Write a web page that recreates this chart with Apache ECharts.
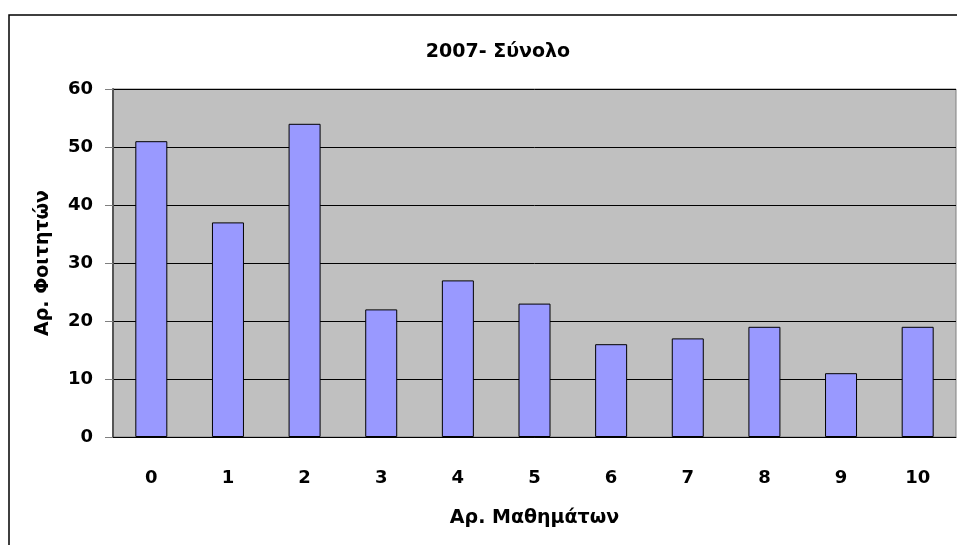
<!DOCTYPE html>
<html>
<head>
<meta charset="utf-8">
<script src="https://cdn.jsdelivr.net/npm/echarts@6/dist/echarts.min.js"></script>
<style>
    html, body { margin: 0; padding: 0; background: #fff; }
    #chart { width: 957px; height: 545px; }
</style>
</head>
<body>
<div id="chart"></div>
<script>
'use strict'

const categories = ['0', '1', '2', '3', '4', '5', '6', '7', '8', '9', '10']
const students = [51, 37, 54, 22, 27, 23, 16, 17, 19, 11, 19]
const yTicks = { min: 0, max: 60, interval: 10 }

const fontFamily = '"DejaVu Sans", "Liberation Sans", Arial, sans-serif'
const labelStyle = {
    color: '#000',
    fontSize: 18,
    fontWeight: 'bold',
    fontFamily: fontFamily
}
const nameStyle = Object.assign({}, labelStyle, { fontSize: 19 })

let myChart = echarts.init(document.getElementById('chart'))
let option = {
    animation: false,
    title: {
        text: '2007- Σύνολο',
        left: 493,
        top: 38,
        textAlign: 'center',
        textStyle: nameStyle
    },
    graphic: [{
        type: 'rect',
        shape: { x: 9, y: 15, width: 1000, height: 600 },
        style: { fill: 'none', stroke: '#000', lineWidth: 1.5 },
        z: 100,
        silent: true
    }],
    grid: {
        left: 113,
        right: 1,
        top: 89,
        bottom: 108,
        show: true,
        backgroundColor: '#C0C0C0',
        borderColor: '#808080',
        borderWidth: 1
    },
    xAxis: {
        type: 'category',
        data: categories,
        boundaryGap: true,
        name: 'Αρ. Μαθημάτων',
        nameLocation: 'middle',
        nameGap: 72,
        nameTextStyle: nameStyle,
        axisLine: { lineStyle: { color: '#000', width: 1 } },
        axisTick: { length: 7, lineStyle: { color: '#808080' } },
        axisLabel: Object.assign({ margin: 32 }, labelStyle)
    },
    yAxis: {
        type: 'value',
        min: yTicks.min,
        max: yTicks.max,
        interval: yTicks.interval,
        name: 'Αρ. Φοιτητών',
        nameLocation: 'middle',
        nameGap: 60,
        nameRotate: 90,
        nameTextStyle: nameStyle,
        axisLine: { show: true, lineStyle: { color: '#555', width: 2 } },
        axisTick: { show: true, length: 8, lineStyle: { color: '#808080' } },
        axisLabel: Object.assign({ margin: 20 }, labelStyle),
        splitLine: { show: true, lineStyle: { color: '#000', width: 1 } }
    },
    series: [{
        type: 'bar',
        data: students,
        barWidth: 32,
        itemStyle: {
            color: '#9999FF',
            borderColor: '#000',
            borderWidth: 1
        }
    }]
}
myChart.setOption(option)
</script>
</body>
</html>
